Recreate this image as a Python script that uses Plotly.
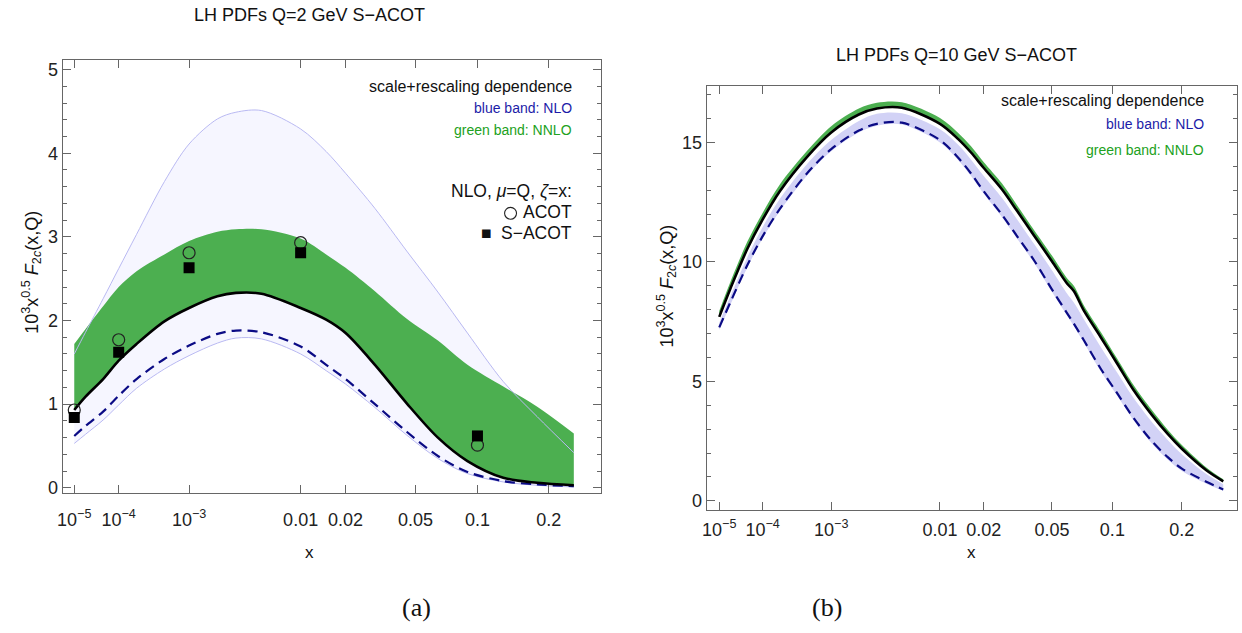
import numpy as np
import plotly.graph_objects as go

W, H = 1242, 633

# ---------------- data: panel (a)  Q = 2 GeV ----------------
L_X = [1e-5, 2e-5, 5e-5, 1e-4, 2e-4, 5e-4, 1e-3, 2e-3, 3e-3, 5e-3, 0.01, 0.015,
       0.02, 0.03, 0.045, 0.065, 0.09, 0.13, 0.18, 0.25]
L_BLACK = [0.93, 1.09, 1.30, 1.52, 1.72, 1.99, 2.15, 2.29, 2.33, 2.32, 2.15, 2.01,
           1.85, 1.47, 1.01, 0.60, 0.32, 0.12, 0.06, 0.03]
L_DASH = [0.62, 0.74, 0.91, 1.10, 1.30, 1.54, 1.70, 1.84, 1.88, 1.86, 1.69, 1.47,
          1.30, 1.00, 0.67, 0.38, 0.19, 0.08, 0.04, 0.02]
L_GREEN_HI = [1.72, 1.90, 2.17, 2.40, 2.59, 2.79, 2.95, 3.06, 3.09, 3.09, 2.98, 2.79,
              2.63, 2.35, 2.02, 1.76, 1.47, 1.21, 0.97, 0.65]
L_BLUE_HI = [1.60, 1.86, 2.26, 2.62, 3.03, 3.66, 4.11, 4.41, 4.49, 4.51, 4.29, 4.02,
             3.76, 3.34, 2.83, 2.34, 1.85, 1.27, 0.85, 0.42]
L_BLUE_LO = [0.53, 0.64, 0.81, 0.99, 1.19, 1.42, 1.58, 1.73, 1.79, 1.78, 1.60, 1.40,
             1.24, 0.96, 0.63, 0.35, 0.17, 0.07, 0.03, 0.01]
PT_X = [1e-5, 1e-4, 1e-3, 0.01, 0.1]
PT_ACOT = [0.93, 1.77, 2.81, 2.93, 0.51]
PT_SACOT = [0.84, 1.62, 2.63, 2.81, 0.62]

# ---------------- data: panel (b)  Q = 10 GeV ----------------
R_X = [1e-5, 2e-5, 5e-5, 1e-4, 2e-4, 5e-4, 1e-3, 2e-3, 3e-3, 5e-3, 0.01, 0.0135,
       0.0165, 0.02, 0.026, 0.032, 0.04, 0.05, 0.06, 0.065, 0.073, 0.088, 0.105,
       0.125, 0.15, 0.175, 0.2, 0.25, 0.29]
R_BLACK = [7.70, 8.87, 10.55, 11.77, 12.97, 14.40, 15.42, 16.17, 16.42, 16.45, 15.78,
           15.14, 14.58, 13.93, 13.03, 12.13, 11.10, 10.03, 9.10, 8.78, 7.96, 6.86,
           5.76, 4.63, 3.60, 2.80, 2.18, 1.28, 0.82]
R_DASH = [7.26, 8.30, 9.87, 11.07, 12.23, 13.71, 14.72, 15.50, 15.78, 15.83, 15.10,
          14.36, 13.70, 12.95, 11.97, 11.07, 10.06, 8.85, 7.86, 7.42, 6.72, 5.54,
          4.52, 3.46, 2.50, 1.83, 1.35, 0.80, 0.48]
R_GREEN_HI = [7.95, 9.15, 10.85, 12.05, 13.25, 14.65, 15.68, 16.42, 16.66, 16.68,
              16.02, 15.40, 14.84, 14.17, 13.28, 12.36, 11.33, 10.27, 9.32, 9.00,
              8.18, 7.08, 5.97, 4.84, 3.80, 2.98, 2.34, 1.40, 0.90]
R_BLUE_HI = [7.45, 8.55, 10.20, 11.45, 12.65, 14.10, 15.10, 15.90, 16.20, 16.22,
             15.55, 14.90, 14.28, 13.60, 12.68, 11.78, 10.75, 9.65, 8.68, 8.30,
             7.60, 6.45, 5.38, 4.30, 3.30, 2.55, 1.95, 1.12, 0.70]
R_BLUE_LO = [7.15, 8.20, 9.78, 10.98, 12.14, 13.62, 14.63, 15.42, 15.70, 15.75,
             15.00, 14.26, 13.60, 12.85, 11.87, 10.97, 9.96, 8.75, 7.76, 7.32,
             6.62, 5.44, 4.42, 3.36, 2.40, 1.73, 1.25, 0.72, 0.42]

X_TICKS = [1e-5, 1e-4, 1e-3, 0.01, 0.02, 0.05, 0.1, 0.2]
X_TICKTEXT = ["10<sup>\u22125</sup>", "10<sup>\u22124</sup>", "10<sup>\u22123</sup>",
              "0.01", "0.02", "0.05", "0.1", "0.2"]
L_YTICKS = [0, 1, 2, 3, 4, 5]
R_YTICKS = [0, 5, 10, 15]

POW = 0.2  # horizontal scale is linear in x^0.2


def u(v):
    return np.power(np.asarray(v, dtype=float), POW)


SM = 0.9


def band(xs, hi, lo, fill, xa, ya):
    uu = u(xs)
    return [go.Scatter(x=uu, y=lo, mode="lines", line=dict(width=0, shape="spline", smoothing=SM),
                       hoverinfo="skip", showlegend=False, xaxis=xa, yaxis=ya),
            go.Scatter(x=uu, y=hi, mode="lines", fill="tonexty", fillcolor=fill,
                       line=dict(width=0, shape="spline", smoothing=SM),
                       hoverinfo="skip", showlegend=False, xaxis=xa, yaxis=ya)]


def line(xs, ys, color, width, dash, xa, ya):
    return go.Scatter(x=u(xs), y=ys, mode="lines",
                      line=dict(color=color, width=width, dash=dash, shape="spline",
                                smoothing=SM),
                      showlegend=False, xaxis=xa, yaxis=ya)


GREEN = "#4caf50"
NAVY = "#0b0b85"
EDGE = "#b9b9f2"

fig = go.Figure()
# panel (a)
fig.add_traces(band(L_X, L_BLUE_HI, L_BLUE_LO, "#f6f6ff", "x", "y"))
fig.add_traces(band(L_X, L_GREEN_HI, L_BLACK, GREEN, "x", "y"))
fig.add_trace(line(L_X, L_BLUE_HI, EDGE, 1, None, "x", "y"))
fig.add_trace(line(L_X, L_BLUE_LO, EDGE, 1, None, "x", "y"))
fig.add_trace(line(L_X, L_DASH, NAVY, 2.2, "10px,6px", "x", "y"))
fig.add_trace(line(L_X, L_BLACK, "black", 2.6, None, "x", "y"))
fig.add_trace(go.Scatter(x=u(PT_X), y=PT_ACOT, mode="markers",
                         marker=dict(symbol="circle-open", size=12, color="#222",
                                     line=dict(width=1.2, color="#222")),
                         showlegend=False, xaxis="x", yaxis="y"))
fig.add_trace(go.Scatter(x=u(PT_X), y=PT_SACOT, mode="markers",
                         marker=dict(symbol="square", size=11, color="black"),
                         showlegend=False, xaxis="x", yaxis="y"))
# panel (b)
fig.add_traces(band(R_X, R_BLUE_HI, R_BLUE_LO, "#d2d2f6", "x2", "y2"))
fig.add_traces(band(R_X, R_GREEN_HI, R_BLACK, GREEN, "x2", "y2"))
fig.add_trace(line(R_X, R_DASH, NAVY, 2.2, "10px,6px", "x2", "y2"))
fig.add_trace(line(R_X, R_BLACK, "black", 2.6, None, "x2", "y2"))

FONT = "Liberation Sans, Arial, sans-serif"
axis_common = dict(showline=True, linecolor="#666", linewidth=1, mirror="ticks",
                   ticks="inside", ticklen=8, tickcolor="#666", tickwidth=1,
                   showgrid=False, zeroline=False,
                   tickfont=dict(family=FONT, size=18, color="#222"))


def px_x(p):
    return p / W


def px_y(p):
    return 1 - p / H


xa = dict(axis_common, tickmode="array", tickvals=list(u(X_TICKS)), ticktext=X_TICKTEXT)

fig.update_layout(
    width=W, height=H, margin=dict(l=0, r=0, t=0, b=0),
    paper_bgcolor="white", plot_bgcolor="white", showlegend=False,
    xaxis=dict(xa, domain=[px_x(57), px_x(598)], range=[0.0848, 0.7938], anchor="y",
               ticklabelstandoff=10),
    yaxis=dict(axis_common, domain=[px_y(497), px_y(60)], range=[-0.063, 5.12],
               tickvals=L_YTICKS, anchor="x",
               minor=dict(ticks="inside", ticklen=4, dtick=0.2, tickcolor="#666")),
    xaxis2=dict(xa, domain=[px_x(704), px_x(1237)], range=[0.0829, 0.7993], anchor="y2",
                ticklabelstandoff=3),
    yaxis2=dict(axis_common, domain=[px_y(514), px_y(87)], range=[-0.38, 17.35],
                tickvals=R_YTICKS, anchor="x2",
                minor=dict(ticks="inside", ticklen=4, dtick=1, tickcolor="#666")),
)

ann = []


def text(px, py, s, size, color="#111", xanchor="center", angle=0, family=FONT):
    ann.append(dict(x=px_x(px), y=px_y(py), xref="paper", yref="paper", text=s,
                    showarrow=False, xanchor=xanchor, yanchor="middle", textangle=angle,
                    font=dict(family=family, size=size, color=color)))


ytitle = "10<sup>3</sup>x<sup>0.5</sup> <i>F</i><sub>2<i>c</i></sub>(x,Q)"
SERIF = "Liberation Serif, DejaVu Serif, serif"
# panel (a) texts
text(305, 15, "LH PDFs Q=2 GeV S\u2212ACOT", 18)
text(26, 274, ytitle, 18, angle=-90)
text(305, 557, "x", 17)
text(571, 87, "scale+rescaling dependence", 16, xanchor="right")
text(571, 109, "blue band: NLO", 14, color="#1c1ca8", xanchor="right")
text(571, 131, "green band: NNLO", 14, color="#21a121", xanchor="right")
text(571, 193, "NLO, <i>\u03bc</i>=Q, <i>\u03b6</i>=x:", 17.5, xanchor="right")
text(571, 214, "ACOT", 17.5, xanchor="right")
text(483, 235, "\u25a0", 17.5)
text(571, 235, "S\u2212ACOT", 17.5, xanchor="right")
text(412, 612, "(a)", 26, family=SERIF)
# panel (b) texts
text(955, 55, "LH PDFs Q=10 GeV S\u2212ACOT", 18)
text(664, 288, ytitle, 18, angle=-90)
text(970, 557, "x", 17)
text(1206, 101, "scale+rescaling dependence", 16, xanchor="right")
text(1206, 125, "blue band: NLO", 14, color="#1c1ca8", xanchor="right")
text(1206, 151, "green band: NNLO", 14, color="#21a121", xanchor="right")
text(825, 612, "(b)", 26, family=SERIF)

# legend glyph (open circle) for "ACOT"
shapes = [dict(type="circle", xref="paper", yref="paper",
               x0=px_x(501), x1=px_x(513), y0=px_y(221), y1=px_y(209),
               line=dict(color="#222", width=1.1), fillcolor="rgba(0,0,0,0)")]

fig.update_layout(annotations=ann, shapes=shapes)
fig.write_html("out.html")
